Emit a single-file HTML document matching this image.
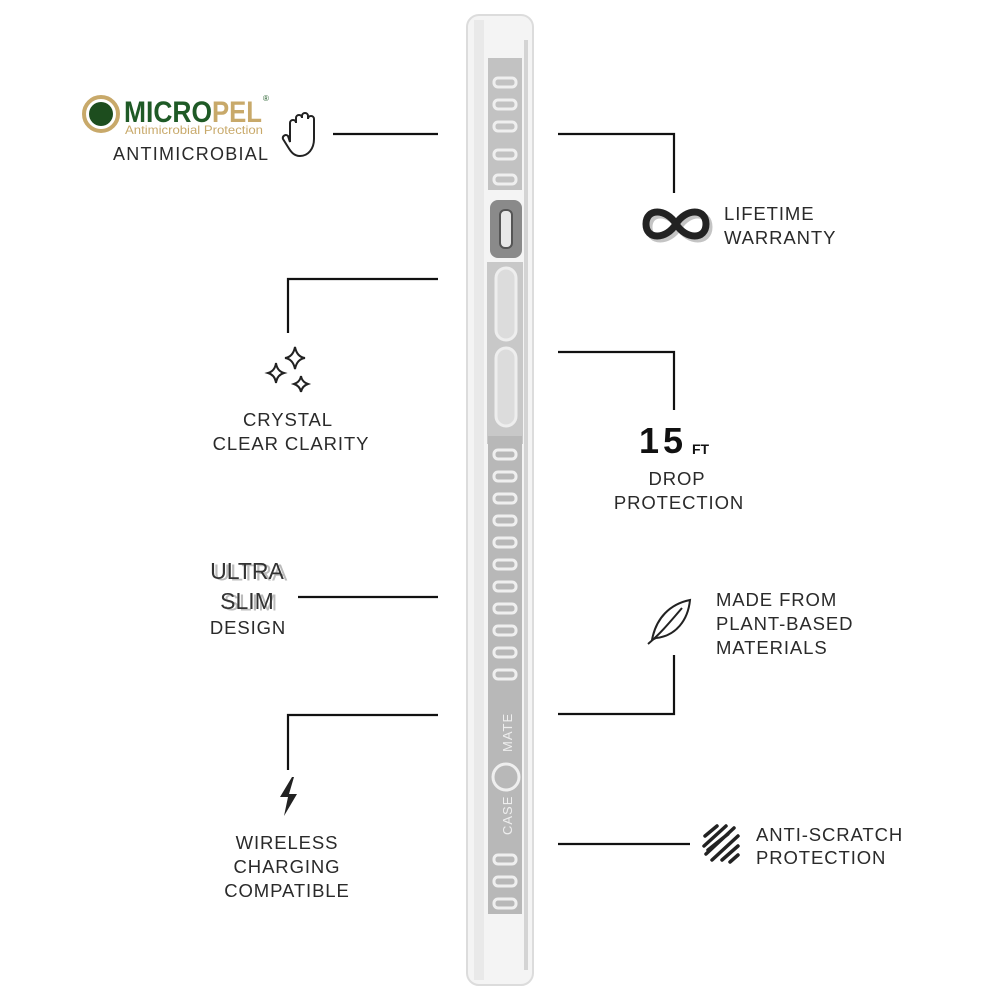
<!DOCTYPE html>
<html><head><meta charset="utf-8"><style>
html,body{margin:0;padding:0;background:#fff}
svg{display:block}
text{font-family:"Liberation Sans",Arial,sans-serif;fill:#2a2a2a}
.l{font-size:18.5px;letter-spacing:0.9px}
</style></head><body>
<svg width="1000" height="1000" viewBox="0 0 1000 1000" xmlns="http://www.w3.org/2000/svg">
<rect width="1000" height="1000" fill="#fff"/>
<!-- phone case -->
<rect x="467" y="15" width="66" height="970" rx="12" fill="#f4f4f4" stroke="#dcdcdc" stroke-width="2"/>
<rect x="474" y="20" width="10" height="960" fill="#e9e9e9"/>
<rect x="524" y="40" width="4" height="930" fill="#d4d4d4"/>
<rect x="488" y="58" width="34" height="132" fill="#c2c2c2"/>
<rect x="490" y="200" width="32" height="58" rx="8" fill="#8a8a8a"/>
<rect x="500" y="210" width="12" height="38" rx="5" fill="#e8e8e8" stroke="#555" stroke-width="2"/>
<rect x="487" y="262" width="36" height="182" fill="#c8c8c8"/>
<rect x="496" y="268" width="20" height="72" rx="10" fill="#dcdcdc" stroke="#eee" stroke-width="3"/>
<rect x="496" y="348" width="20" height="78" rx="10" fill="#dcdcdc" stroke="#eee" stroke-width="3"/>
<rect x="488" y="436" width="34" height="478" fill="#b8b8b8"/>
<g fill="none" stroke="#efefef" stroke-width="3">
<rect x="494" y="78" width="22" height="9" rx="4"/><rect x="494" y="100" width="22" height="9" rx="4"/>
<rect x="494" y="122" width="22" height="9" rx="4"/><rect x="494" y="150" width="22" height="9" rx="4"/>
<rect x="494" y="175" width="22" height="9" rx="4"/>
<rect x="494" y="450" width="22" height="9" rx="4"/><rect x="494" y="472" width="22" height="9" rx="4"/>
<rect x="494" y="494" width="22" height="9" rx="4"/><rect x="494" y="516" width="22" height="9" rx="4"/>
<rect x="494" y="538" width="22" height="9" rx="4"/><rect x="494" y="560" width="22" height="9" rx="4"/>
<rect x="494" y="582" width="22" height="9" rx="4"/><rect x="494" y="604" width="22" height="9" rx="4"/>
<rect x="494" y="626" width="22" height="9" rx="4"/><rect x="494" y="648" width="22" height="9" rx="4"/>
<rect x="494" y="670" width="22" height="9" rx="4"/>
<circle cx="506" cy="777" r="13"/>
<rect x="494" y="855" width="22" height="9" rx="4"/><rect x="494" y="877" width="22" height="9" rx="4"/>
<rect x="494" y="899" width="22" height="9" rx="4"/>
</g>
<text x="0" y="0" transform="translate(512,835) rotate(-90)" font-size="13" style="fill:#eee" letter-spacing="1">CASE</text>
<text x="0" y="0" transform="translate(512,752) rotate(-90)" font-size="13" style="fill:#eee" letter-spacing="1">MATE</text>

<!-- connectors -->
<g stroke="#111" stroke-width="2.2" fill="none">
<path d="M333 134H438"/>
<path d="M558 134H674V193"/>
<path d="M438 279H288V333"/>
<path d="M558 352H674V410"/>
<path d="M298 597H438"/>
<path d="M674 655V714H558"/>
<path d="M438 715H288V770"/>
<path d="M558 844H690"/>
</g>

<!-- micropel -->
<circle cx="101" cy="114" r="17" fill="none" stroke="#c8a96a" stroke-width="4"/>
<circle cx="101" cy="114" r="12" fill="#1d4d1e"/>
<g transform="translate(0,122) scale(1,1.35) translate(0,-122)">
<text x="124" y="122" font-size="22" font-weight="bold" style="fill:#1f5a26" textLength="88" lengthAdjust="spacingAndGlyphs">MICRO</text>
<text x="212" y="122" font-size="22" font-weight="bold" style="fill:#c8a96a" textLength="50" lengthAdjust="spacingAndGlyphs">PEL</text>
</g>
<text x="263" y="101" font-size="8" style="fill:#1f5a26">®</text>
<text x="125" y="134" font-size="12" style="fill:#c8a96a" textLength="138" lengthAdjust="spacingAndGlyphs">Antimicrobial Protection</text>
<text x="113" y="160" font-size="18" textLength="155">ANTIMICROBIAL</text>
<!-- hand -->
<path d="M290 142V123a3 3 0 0 1 6 0V118a3 3 0 0 1 6 0v-2a3 3 0 0 1 6 0v3a3 3 0 0 1 6 0v20c0 10-6 17-14 17c-6 0-9-4-12-9l-5-8a3 3 0 0 1 5-3z" fill="none" stroke="#222" stroke-width="2"/>

<!-- infinity -->
<path d="M676,224 C666,208 646,208 646,224 C646,240 666,240 676,224 C686,208 706,208 706,224 C706,240 686,240 676,224z" fill="none" stroke="#c4c4c4" stroke-width="7" transform="translate(3,3)"/>
<path d="M676,224 C666,208 646,208 646,224 C646,240 666,240 676,224 C686,208 706,208 706,224 C706,240 686,240 676,224z" fill="none" stroke="#222" stroke-width="7"/>
<text x="724" y="220" class="l">LIFETIME</text>
<text x="724" y="244" class="l">WARRANTY</text>

<!-- sparkles -->
<g fill="none" stroke="#222" stroke-width="2">
<path d="M295 347q2 10 10 11q-8 1-10 11q-2-10-10-11q8-1 10-11z"/>
<path d="M276 363q1 8 8 10q-7 2-8 10q-1-8-8-10q7-2 8-10z"/>
<path d="M301 376q1 6 7 8q-6 2-7 8q-1-6-7-8q6-2 7-8z"/>
</g>
<text x="288" y="426" class="l" text-anchor="middle">CRYSTAL</text>
<text x="291" y="450" class="l" text-anchor="middle">CLEAR CLARITY</text>

<!-- 15 ft -->
<text x="639" y="453" font-size="36" font-weight="bold" style="fill:#111" letter-spacing="4">15</text>
<text x="692" y="454" font-size="14" font-weight="bold" style="fill:#111">FT</text>
<text x="677" y="485" class="l" text-anchor="middle">DROP</text>
<text x="679" y="509" class="l" text-anchor="middle">PROTECTION</text>

<!-- ultra slim -->
<text x="249" y="579" font-size="23" text-anchor="middle" style="fill:#bbb" transform="translate(1.5,1.5)">ULTRA</text>
<text x="247" y="579" font-size="23" text-anchor="middle" style="fill:#333">ULTRA</text>
<text x="249" y="609" font-size="23" text-anchor="middle" style="fill:#bbb" transform="translate(1.5,1.5)">SLIM</text>
<text x="247" y="609" font-size="23" text-anchor="middle" style="fill:#333">SLIM</text>
<text x="248" y="634" class="l" text-anchor="middle">DESIGN</text>

<!-- leaf -->
<g fill="none" stroke="#222" stroke-width="2">
<path d="M652 640c4-22 18-36 38-40c-2 20-14 36-34 38z"/>
<path d="M648 644c12-10 22-22 34-36"/>
</g>
<text x="716" y="606" class="l">MADE FROM</text>
<text x="716" y="630" class="l">PLANT-BASED</text>
<text x="716" y="654" class="l">MATERIALS</text>

<!-- bolt -->
<path d="M292 777l-12 20h8l-4 19l13-22h-8l5-17z" fill="#222"/>
<text x="287" y="849" class="l" text-anchor="middle">WIRELESS</text>
<text x="287" y="873" class="l" text-anchor="middle">CHARGING</text>
<text x="287" y="897" class="l" text-anchor="middle">COMPATIBLE</text>

<!-- scratch -->
<g stroke="#222" stroke-width="3.5" fill="none" stroke-linecap="round">
<path d="M705 836l12-10M704 846l22-20M706 854l28-26M712 860l26-24M722 860l16-14M730 862l8-7M708 850l20-16"/>
</g>
<text x="756" y="841" class="l">ANTI-SCRATCH</text>
<text x="756" y="864" class="l">PROTECTION</text>
</svg>
</body></html>
